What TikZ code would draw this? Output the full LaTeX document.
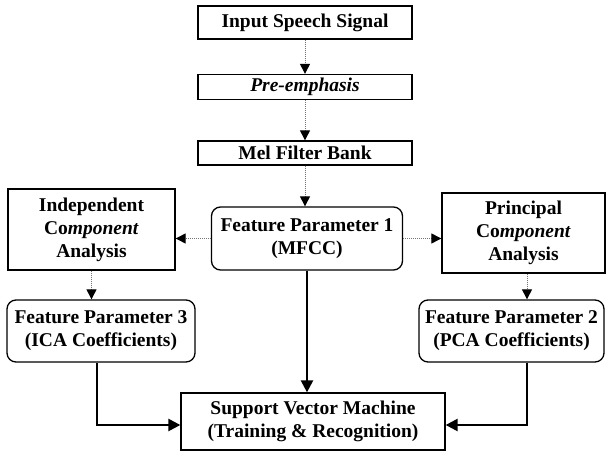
\documentclass[tikz,border=0pt]{standalone}
\usepackage{fontspec}
\setmainfont{Liberation Serif}
\usetikzlibrary{arrows.meta}
\tikzset{
  px/.style={x=1pt,y=-1pt},
  sqbox/.style={draw=black,line width=1.3pt,fill=white,align=center,inner sep=0pt,font=\fontsize{19.5}{23}\selectfont\bfseries},
  rdbox/.style={sqbox,rounded corners=9pt},
  thin arrow/.style={draw=black!55,line width=1pt,densely dotted,-{Triangle[width=10pt,length=10pt,fill=black,color=black]}},
  thick arrow/.style={draw=black,line width=2.4pt,-{Triangle[width=12pt,length=12pt]}}
}
\begin{document}
\begin{tikzpicture}[px]
\useasboundingbox (0,0) rectangle (606,452);
\node[sqbox,minimum width=214pt,minimum height=33pt] (in) at (305,22.5) {Input Speech Signal};
\node[sqbox,minimum width=214pt,minimum height=25pt] (pre) at (305,87) {\itshape Pre-emphasis};
\node[sqbox,minimum width=214pt,minimum height=24pt] (mel) at (305,153) {Mel Filter Bank};
\node[rdbox,minimum width=191pt,minimum height=63pt] (fp1) at (307,238.5) {Feature Parameter 1\\(MFCC)};
\node[sqbox,minimum width=167pt,minimum height=81pt] (ica) at (91.5,229.5) {Independent\\Co\textit{mponent}\\Analysis};
\node[sqbox,minimum width=163pt,minimum height=80pt] (pca) at (523.5,233) {Principal\\Co\textit{mponent}\\Analysis};
\node[rdbox,minimum width=188pt,minimum height=62pt] (fp3) at (101,331) {Feature Parameter 3\\(ICA Coefficients)};
\node[rdbox,minimum width=185pt,minimum height=62pt] (fp2) at (511.5,331) {Feature Parameter 2\\(PCA Coefficients)};
\node[sqbox,minimum width=264pt,minimum height=57pt] (svm) at (313,421.5) {Support Vector Machine\\(Training \& Recognition)};
\coordinate (pcax) at (527,0);
\coordinate (fp3x) at (97,0);
\coordinate (joinL) at (97,425);
\coordinate (joinR) at (527,425);
\draw[thin arrow] (in) -- (pre);
\draw[thin arrow] (pre) -- (mel);
\draw[thin arrow] (mel.south) -- (mel.south |- fp1.north);
\draw[thin arrow] (fp1.west) -- (ica.east |- fp1.west);
\draw[thin arrow] (fp1.east) -- (pca.west |- fp1.east);
\draw[thin arrow] (ica) -- (ica.south |- fp3.north);
\draw[thin arrow] (pcax |- pca.south) -- (pcax |- fp2.north);
\draw[thick arrow] (fp1.south) -- (fp1.south |- svm.north);
\draw[thick arrow] (fp3x |- fp3.south) -- (joinL) -- (svm.west |- joinL);
\draw[thick arrow] (pcax |- fp2.south) -- (joinR) -- (svm.east |- joinR);
\end{tikzpicture}
\end{document}
